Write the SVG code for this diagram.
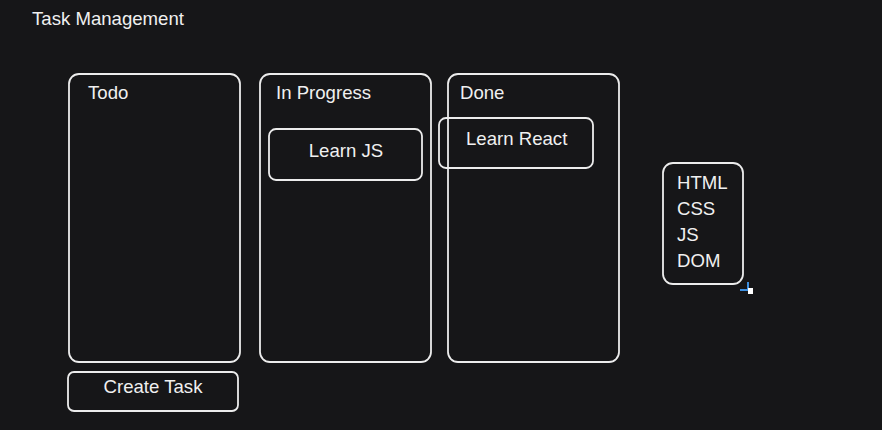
<svg xmlns="http://www.w3.org/2000/svg" width="882" height="430" viewBox="0 0 882 430">
<style>
.bx{fill:none;stroke:#ececec;stroke-width:1.8}
.t{font-family:"Liberation Sans",Arial,sans-serif;font-size:18.6px;fill:#f0f0f0}
.m{text-anchor:middle}
</style>
<rect width="882" height="430" fill="#161618"/>
<text class="t" x="32" y="25">Task Management</text>
<g id="todo">
<rect class="bx" x="69" y="74" width="171" height="288" rx="10"/>
<text class="t" x="88" y="99">Todo</text>
</g>
<g id="inprogress">
<rect class="bx" x="260" y="74" width="171" height="288" rx="10"/>
<text class="t" x="276" y="99">In Progress</text>
</g>
<g id="done">
<rect class="bx" x="448" y="74" width="171" height="288" rx="10"/>
<text class="t" x="460" y="99">Done</text>
</g>
<g id="learnjs">
<rect class="bx" x="269" y="129" width="153" height="51" rx="7"/>
<text class="t m" x="346" y="157">Learn JS</text>
</g>
<g id="learnreact">
<rect class="bx" x="439" y="118" width="154" height="50" rx="7"/>
<text class="t" x="466" y="145">Learn React</text>
</g>
<g id="createtask">
<rect class="bx" x="68" y="372" width="170" height="39" rx="6"/>
<text class="t m" x="153" y="393">Create Task</text>
</g>
<g id="topics">
<rect class="bx" x="663" y="163" width="80" height="121" rx="10"/>
<text class="t" x="677" y="189">HTML</text>
<text class="t" x="677" y="215">CSS</text>
<text class="t" x="677" y="241">JS</text>
<text class="t" x="677" y="267">DOM</text>
</g>
<g id="connectors"></g>
<g id="cursor">
<path d="M748 282v8M740 290h8" stroke="#3d8fe0" stroke-width="2" fill="none"/>
<rect x="748" y="288" width="5" height="6" fill="#ffffff"/>
</g>
</svg>
